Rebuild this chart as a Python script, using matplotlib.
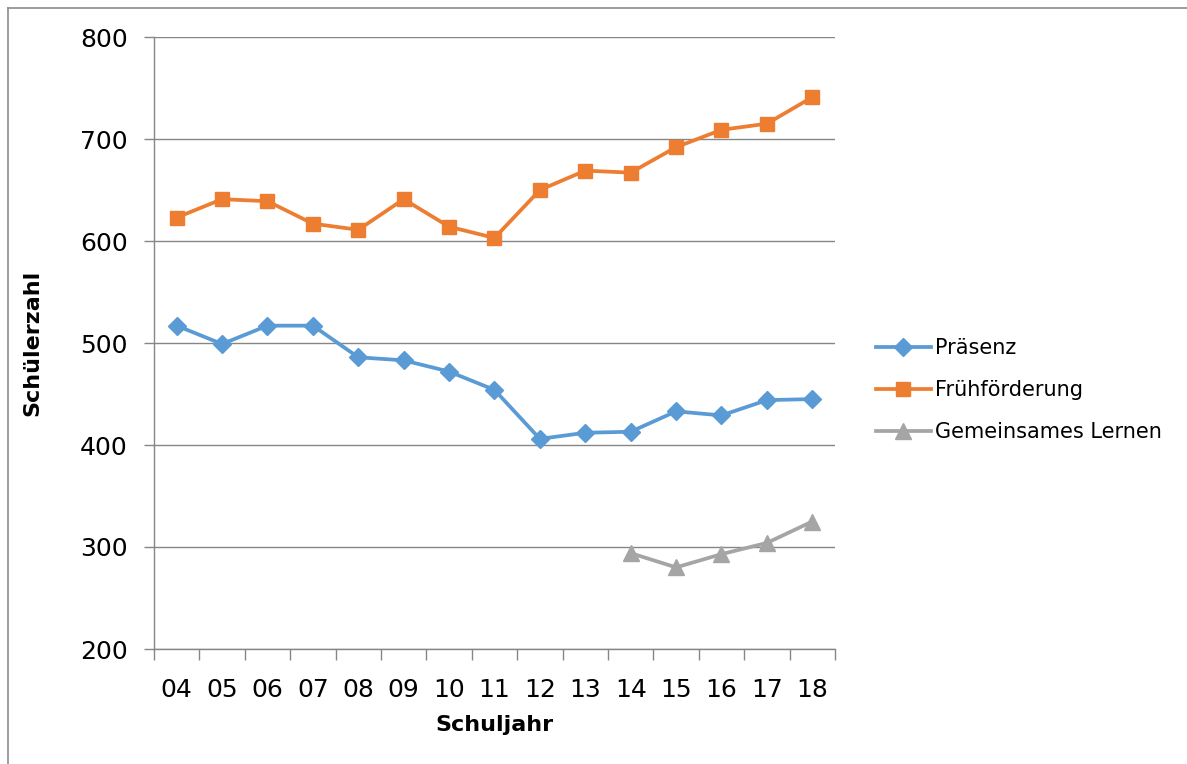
import matplotlib
matplotlib.use("Agg")
import matplotlib.pyplot as plt
from matplotlib.lines import Line2D
import numpy as np

# Schuljahre (Kurzform)
years = ["04", "05", "06", "07", "08", "09", "10", "11", "12", "13", "14", "15", "16", "17", "18"]

# Schülerzahlen je Förderform
praesenz = [517, 499, 517, 517, 486, 483, 472, 454, 406, 412, 413, 433, 429, 444, 445]
fruehfoerderung = [623, 641, 639, 617, 611, 641, 614, 603, 650, 669, 667, 692, 709, 715, 741]
gl_years = ["14", "15", "16", "17", "18"]
gemeinsames_lernen = [294, 280, 293, 304, 325]

series_names = ["Präsenz", "Frühförderung", "Gemeinsames Lernen"]
yticks = [200, 300, 400, 500, 600, 700, 800]

plt.rcParams["font.family"] = ["DejaVu Sans"]

W, H, DPI = 1187, 764, 100
fig = plt.figure(figsize=(W / DPI, H / DPI), dpi=DPI)

# plot area in pixel coordinates
left, right, top, bottom = 154, 835, 37, 649
ax = fig.add_axes([left / W, 1 - bottom / H, (right - left) / W, (bottom - top) / H])

x = np.arange(len(years))
gx = np.array([years.index(y) for y in gl_years])

grid_c = "#868686"
blue, orange, gray = "#5B9BD5", "#ED7D31", "#A5A5A5"

ax.set_ylim(200, 800)
ax.set_xlim(-0.5, len(years) - 0.5)
ax.set_yticks(yticks)
ax.yaxis.grid(True, color=grid_c, linewidth=1.0)
ax.set_axisbelow(True)

ax.plot(x, praesenz, color=blue, lw=2.7, marker="D", ms=9, mec=blue, mfc=blue,
        label=series_names[0], solid_joinstyle="round", zorder=3)
ax.plot(x, fruehfoerderung, color=orange, lw=2.7, marker="s", ms=9.5, mec=orange, mfc=orange,
        label=series_names[1], solid_joinstyle="round", zorder=3)
ax.plot(gx, gemeinsames_lernen, color=gray, lw=2.7, marker="^", ms=11, mec=gray, mfc=gray,
        label=series_names[2], solid_joinstyle="round", zorder=3)

for s in ["top", "right"]:
    ax.spines[s].set_visible(False)
for s in ["left", "bottom"]:
    ax.spines[s].set_color(grid_c)
    ax.spines[s].set_linewidth(1.0)

ax.set_xticks(x)
ax.set_xticklabels(years)
ax.set_xticks(np.arange(-0.5, len(years)), minor=True)
ax.tick_params(axis="x", which="major", length=0, pad=21, labelsize=18, colors="black")
ax.tick_params(axis="x", which="minor", length=8, width=1.0, color=grid_c)
ax.tick_params(axis="y", which="major", length=7, width=1.0, color=grid_c, pad=12,
               labelsize=18, labelcolor="black")

ax.set_xlabel("Schuljahr", fontsize=16, fontweight="bold", labelpad=9)
ax.set_ylabel("Schülerzahl", fontsize=16, fontweight="bold", labelpad=27)

leg = ax.legend(loc="upper left", bbox_to_anchor=(868 / W, 1 - 330 / H),
                bbox_transform=fig.transFigure, frameon=False, fontsize=15,
                handlelength=2.6, handletextpad=0.2, labelspacing=1.05, borderaxespad=0)

# outer chart frame (top and left edges)
fig.add_artist(Line2D([8 / W, 1], [1 - 8 / H, 1 - 8 / H], transform=fig.transFigure,
                      color="#8C8C8C", lw=1.2))
fig.add_artist(Line2D([8 / W, 8 / W], [0, 1 - 8 / H], transform=fig.transFigure,
                      color="#8C8C8C", lw=1.2))

fig.savefig("out.png", dpi=DPI, facecolor="white")
